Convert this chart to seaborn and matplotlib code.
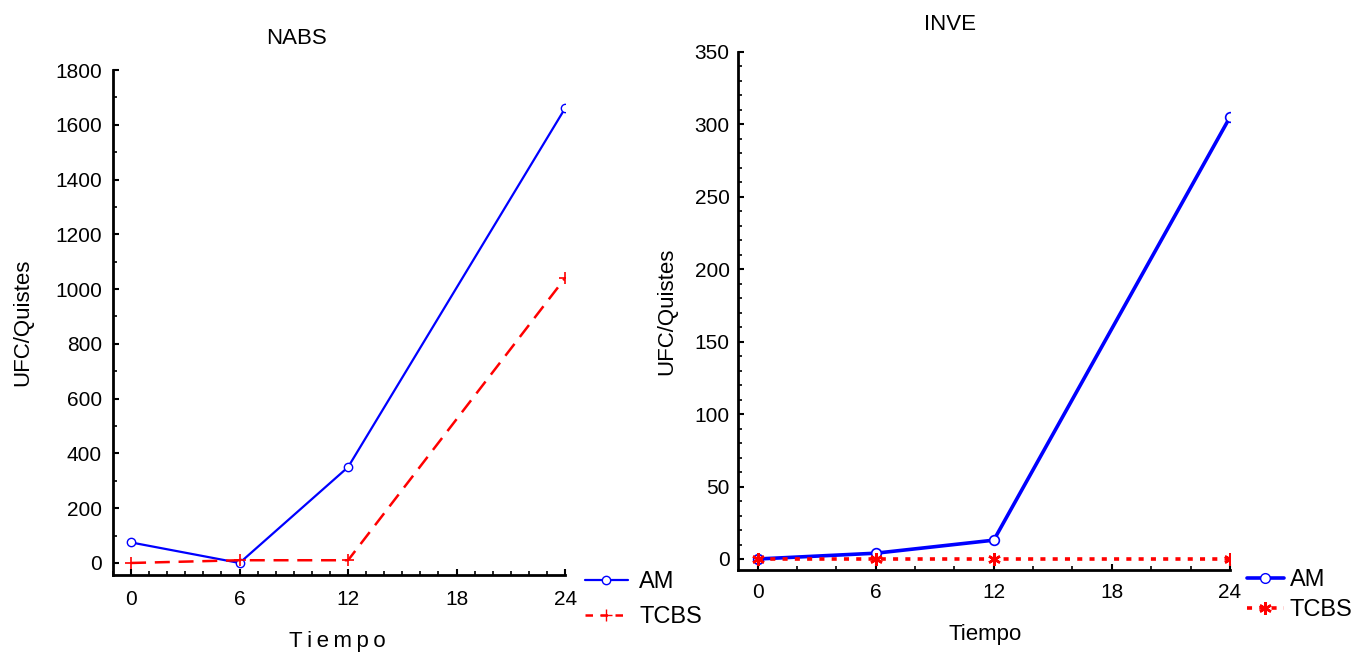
import matplotlib
matplotlib.use("Agg")
import matplotlib.pyplot as plt
import seaborn as sns
import pandas as pd
from matplotlib.ticker import MultipleLocator
from matplotlib.lines import Line2D

# Sampling times (h)
tiempo = [0, 6, 12, 24]

# NABS counts
nabs_am = [75, 0, 350, 1660]
nabs_tcbs = [0, 10, 10, 1040]

# INVE counts
inve_am = [0, 4, 13, 305]
inve_tcbs = [0, 0, 0, 0]

x_ticks = [0, 6, 12, 18, 24]

sns.set_style("ticks")
plt.rcParams["font.family"] = ["Liberation Sans", "DejaVu Sans"]
plt.rcParams["text.color"] = "black"
plt.rcParams["axes.labelcolor"] = "black"

BLUE = "#0000ff"
RED = "#ff0000"
STAR = (6, 2, 0)

fig = plt.figure(figsize=(13.58, 6.53), dpi=100)
ax1 = fig.add_axes([0.0832, 0.1194, 0.3329, 0.7734])
ax2 = fig.add_axes([0.5434, 0.1271, 0.3623, 0.7933])

df1 = pd.DataFrame({"Tiempo": tiempo, "AM": nabs_am, "TCBS": nabs_tcbs})
df2 = pd.DataFrame({"Tiempo": tiempo, "AM": inve_am, "TCBS": inve_tcbs})

# NABS panel
sns.lineplot(data=df1, x="Tiempo", y="AM", ax=ax1, color=BLUE, lw=1.6,
             marker="o", markersize=6, markerfacecolor="white",
             markeredgecolor=BLUE, markeredgewidth=1.0)
sns.lineplot(data=df1, x="Tiempo", y="TCBS", ax=ax1, color=RED, lw=1.8,
             marker="+", markersize=8, markeredgecolor=RED,
             markeredgewidth=1.2, dashes=(6, 3.5))
ax1.set_xlim(-1, 24)
ax1.set_ylim(-44, 1800)
ax1.yaxis.set_major_locator(MultipleLocator(200))
ax1.yaxis.set_minor_locator(MultipleLocator(100))
ax1.xaxis.set_minor_locator(MultipleLocator(1))

# INVE panel
sns.lineplot(data=df2, x="Tiempo", y="AM", ax=ax2, color=BLUE, lw=2.6,
             marker="o", markersize=7, markerfacecolor="white",
             markeredgecolor=BLUE, markeredgewidth=1.2)
sns.lineplot(data=df2, x="Tiempo", y="TCBS", ax=ax2, color=RED, lw=2.6,
             marker=STAR, markersize=9, markeredgecolor=RED,
             markeredgewidth=1.8, dashes=(1.4, 2.0))
ax2.set_xlim(-1, 24)
ax2.set_ylim(-7.6, 350)
ax2.yaxis.set_major_locator(MultipleLocator(50))
ax2.yaxis.set_minor_locator(MultipleLocator(10))
ax2.xaxis.set_minor_locator(MultipleLocator(2))

fig.text(296 / 1358, 1 - 38 / 653, "NABS", fontsize=16, ha="center", va="center")
fig.text(950 / 1358, 1 - 25 / 653, "INVE", fontsize=16, ha="center", va="center")

ax1.set_xlabel("T\u2009i\u2009e\u2009m\u2009p\u2009o", fontsize=16)
ax2.set_xlabel("Tiempo", fontsize=16)
ax1.xaxis.set_label_coords(0.496, -0.111)
ax2.xaxis.set_label_coords(0.502, -0.104)

for ax, ylx in ((ax1, -0.177), (ax2, -0.124)):
    ax.set_xticks(x_ticks)
    ax.set_ylabel("UFC/Quistes", fontsize=16)
    ax.yaxis.set_label_coords(ylx, 0.5)
    ax.tick_params(axis="both", which="major", direction="in", length=4, width=1.5,
                   labelsize=15, color="black", labelcolor="black")
    ax.tick_params(axis="both", which="minor", direction="in", length=3, width=1.2,
                   color="black")
    for s in ("top", "right"):
        ax.spines[s].set_visible(False)
    for s in ("left", "bottom"):
        ax.spines[s].set_linewidth(2)
        ax.spines[s].set_color("black")
    if ax.get_legend() is not None:
        ax.get_legend().remove()

ax1.tick_params(axis="y", which="major", pad=8)
ax1.tick_params(axis="x", which="major", pad=11)
ax2.tick_params(axis="y", which="major", pad=6)
ax2.tick_params(axis="x", which="major", pad=9)

h1 = [Line2D([], [], color=BLUE, lw=1.6, marker="o", markersize=6,
             markerfacecolor="white", markeredgecolor=BLUE),
      Line2D([], [], color=RED, lw=1.8, marker="+", markersize=8,
             markeredgecolor=RED, dashes=(3, 3))]
fig.legend(h1, ["AM", "TCBS"], loc="upper left", bbox_to_anchor=(0.4308, 0.125),
           frameon=False, fontsize=17, handlelength=1.8, labelspacing=0.55,
           handletextpad=0.5, borderaxespad=0, borderpad=0)

h2 = [Line2D([], [], color=BLUE, lw=2.6, marker="o", markersize=7,
             markerfacecolor="white", markeredgecolor=BLUE),
      Line2D([], [], color=RED, lw=2.6, marker=STAR, markersize=9,
             markeredgecolor=RED, markeredgewidth=1.8, dashes=(1.4, 2.0))]
fig.legend(h2, ["AM", "TCBS"], loc="upper left", bbox_to_anchor=(0.918, 0.128),
           frameon=False, fontsize=17, handlelength=1.57, labelspacing=0.33,
           handletextpad=0.25, borderaxespad=0, borderpad=0)

fig.savefig("out.png", dpi=100, facecolor="white")
